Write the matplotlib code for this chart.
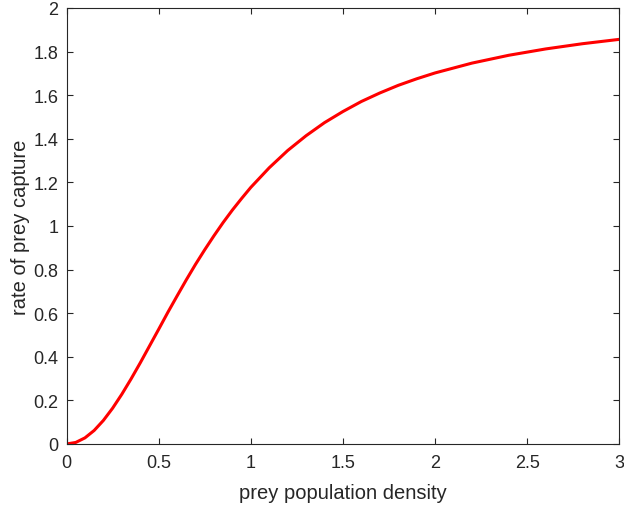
import numpy as np
import matplotlib
matplotlib.use('Agg')
import matplotlib.pyplot as plt

# values
prey_density = [0, 0.05, 0.1, 0.15, 0.2, 0.25, 0.3, 0.35, 0.4, 0.45, 0.5,
                0.55, 0.6, 0.65, 0.7, 0.75, 0.8, 0.85, 0.9, 0.95, 1.0,
                1.1, 1.2, 1.3, 1.4, 1.5, 1.6, 1.7, 1.8, 1.9, 2.0,
                2.2, 2.4, 2.6, 2.8, 3.0]
capture_rate = [0, 0.007, 0.028, 0.062, 0.108, 0.164, 0.228, 0.298, 0.372, 0.449, 0.526,
                0.604, 0.679, 0.753, 0.824, 0.891, 0.955, 1.016, 1.073, 1.126, 1.177,
                1.267, 1.346, 1.414, 1.474, 1.525, 1.571, 1.610, 1.645, 1.675, 1.702,
                1.747, 1.783, 1.812, 1.836, 1.856]

x_ticks = [0, 0.5, 1, 1.5, 2, 2.5, 3]
y_ticks = [0, 0.2, 0.4, 0.6, 0.8, 1, 1.2, 1.4, 1.6, 1.8, 2]

plt.rcParams['font.family'] = ['Liberation Sans', 'DejaVu Sans']

fig = plt.figure(figsize = (6.24, 5.06), dpi = 100)
ax = fig.add_axes([0.1066, 0.1206, 0.886, 0.8617])

ax.plot(prey_density, capture_rate, color = 'red', linewidth = 2.2,
        solid_joinstyle = 'round')

ax.set_xlim(0, 3)
ax.set_ylim(0, 2)
ax.set_xticks(x_ticks)
ax.set_xticklabels([('%g' % v) for v in x_ticks])
ax.set_yticks(y_ticks)
ax.set_yticklabels([('%g' % v) for v in y_ticks])

axis_col = '#262626'
for s in ax.spines.values():
    s.set_color(axis_col)
    s.set_linewidth(0.8)
ax.tick_params(direction = 'in', top = True, right = True, length = 4.5,
               width = 0.8, color = axis_col, labelcolor = axis_col, labelsize = 13)
ax.tick_params(axis = 'x', pad = 7)
ax.tick_params(axis = 'y', pad = 6)

ax.set_xlabel('prey population density', fontsize = 14.5, color = axis_col, labelpad = 9)
ax.set_ylabel('rate of prey capture', fontsize = 14.5, color = axis_col, labelpad = 2)

plt.savefig('out.png', dpi = 100)
